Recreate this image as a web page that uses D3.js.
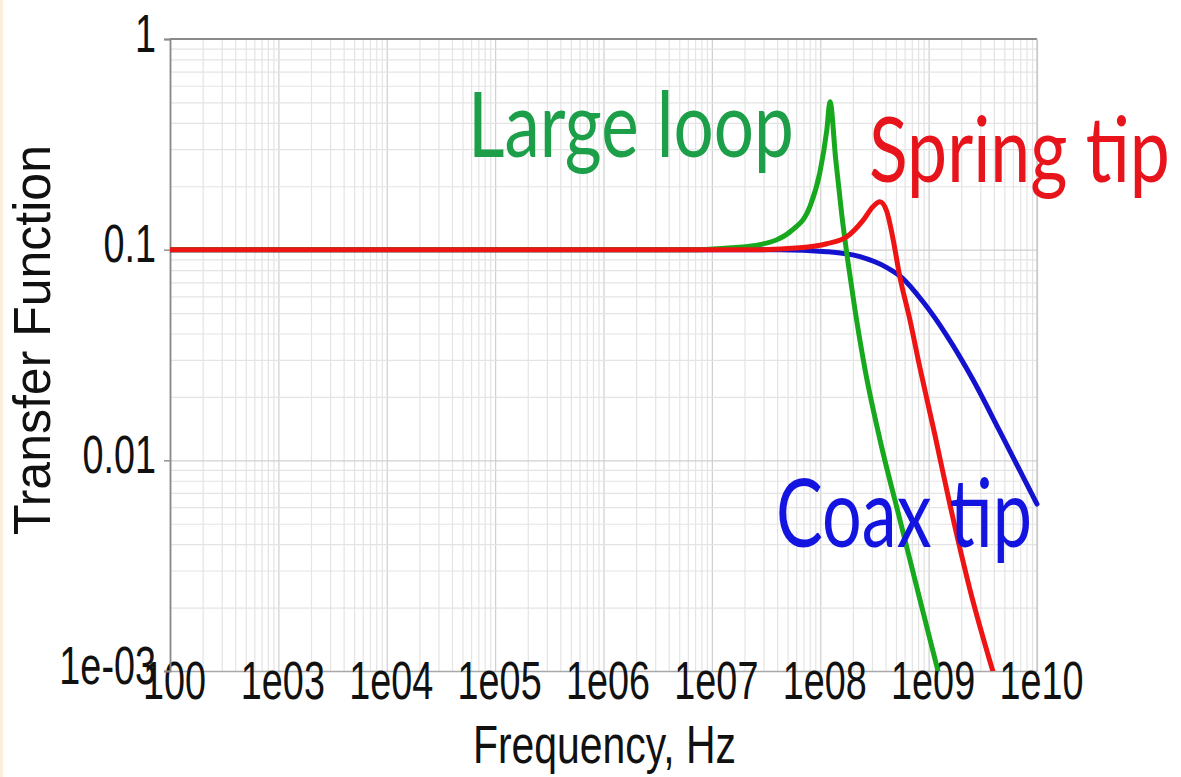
<!DOCTYPE html>
<html>
<head>
<meta charset="utf-8">
<script src="https://cdn.jsdelivr.net/npm/d3@7"></script>
<style>
  html, body { margin: 0; padding: 0; background: #ffffff; }
  svg { display: block; }
</style>
</head>
<body>
<svg id="chart" width="1181" height="777"></svg>
<script>
// ---- data ---------------------------------------------------------------
const xTickValues = [1e2, 1e3, 1e4, 1e5, 1e6, 1e7, 1e8, 1e9, 1e10];
const xTickLabels = ["100", "1e03", "1e04", "1e05", "1e06", "1e07", "1e08", "1e09", "1e10"];
const yTickValues = [1e-3, 1e-2, 1e-1, 1];
const yTickLabels = ["1e-03", "0.01", "0.1", "1"];

// Large loop probe: sharp resonance near 120 MHz
const largeLoopFreq = [1e2, 7.75e6, 1.56e7, 2.77e7, 5.58e7, 8.02e7, 9.91e7, 1.15e8, 1.23e8,
                       1.39e8, 1.58e8, 1.80e8, 2.09e8, 2.59e8, 3.55e8, 5.42e8, 8.30e8, 1.22e9];
const largeLoopTF   = [0.1, 0.1, 0.1022, 0.1056, 0.1244, 0.160, 0.232, 0.370, 0.503,
                       0.267, 0.1465, 0.0878, 0.052, 0.027, 0.01258, 0.00525, 0.00219, 0.001];

// Spring tip probe: mild peak near 350 MHz
const springTipFreq = [1e2, 2.77e7, 6.48e7, 1.15e8, 1.76e8, 2.47e8, 3.06e8, 3.55e8, 4.12e8,
                       4.67e8, 5.42e8, 6.71e8, 8.30e8, 1.14e9, 1.57e9, 2.40e9, 3.91e9];
const springTipTF   = [0.1, 0.1, 0.102, 0.1067, 0.1152, 0.1373, 0.160, 0.1688, 0.1514,
                       0.114, 0.0745, 0.0466, 0.0276, 0.01328, 0.00619, 0.00245, 0.001];

// Coax tip probe: smooth roll-off
const coaxTipFreq = [1e2, 4.24e7, 1.15e8, 2.32e8, 4.12e8, 5.66e8, 8.84e8, 1.47e9, 2.56e9, 4.54e9, 1e10];
const coaxTipTF   = [0.1, 0.1, 0.0978, 0.0926, 0.0822, 0.0737, 0.0567, 0.0391, 0.0242, 0.01372, 0.0062];

const seriesNames = ["Coax tip", "Large loop", "Spring tip"];

// ---- layout -------------------------------------------------------------
const svg = d3.select("#chart");
const W = 1181, H = 777;
const plot = { left: 170, right: 1037, top: 39, bottom: 671 };

svg.append("rect").attr("width", W).attr("height", H).attr("fill", "#ffffff");
// faint warm tint along the left edge of the slide
svg.append("rect").attr("x", 0).attr("y", 0).attr("width", 3).attr("height", H).attr("fill", "#fbeedd");

const x = d3.scaleLog().domain([1e2, 1e10]).range([plot.left, plot.right]);
const y = d3.scaleLog().domain([1e-3, 1]).range([plot.bottom, plot.top]);

const isDecade = v => Math.abs(Math.log10(v) - Math.round(Math.log10(v))) < 1e-9;

// ---- grid ---------------------------------------------------------------
const gridX = svg.append("g")
  .attr("transform", `translate(0,${plot.bottom})`)
  .call(d3.axisBottom(x).tickValues(x.ticks()).tickSize(-(plot.bottom - plot.top)).tickFormat(""));
gridX.select(".domain").remove();
gridX.selectAll(".tick line")
  .attr("stroke", d => isDecade(d) ? "#cfcfcf" : "#e4e4e4")
  .attr("stroke-width", 1.2);

const gridY = svg.append("g")
  .attr("transform", `translate(${plot.left},0)`)
  .call(d3.axisLeft(y).tickValues(y.ticks()).tickSize(-(plot.right - plot.left)).tickFormat(""));
gridY.select(".domain").remove();
gridY.selectAll(".tick line")
  .attr("stroke", d => isDecade(d) ? "#cfcfcf" : "#e4e4e4")
  .attr("stroke-width", 1.2);

// ---- frame --------------------------------------------------------------
svg.append("line").attr("x1", plot.left).attr("x2", plot.right).attr("y1", plot.top).attr("y2", plot.top)
  .attr("stroke", "#8a8a8a").attr("stroke-width", 1.8);
svg.append("line").attr("x1", plot.right).attr("x2", plot.right).attr("y1", plot.top).attr("y2", plot.bottom)
  .attr("stroke", "#c4c4c4").attr("stroke-width", 1.2);

// ---- axes ---------------------------------------------------------------
const tickFont = "'Liberation Sans', Arial, sans-serif";

const xAxis = svg.append("g")
  .attr("transform", `translate(0,${plot.bottom})`)
  .call(d3.axisBottom(x).tickValues(xTickValues).tickSize(0)
    .tickFormat((d, i) => xTickLabels[i]));
xAxis.select(".domain").attr("stroke", "#a8a8a8").attr("stroke-width", 1.4);
xAxis.selectAll(".tick text")
  .attr("x", 0).attr("y", 0).attr("dy", null)
  .attr("text-anchor", "middle")
  .attr("transform", "translate(4,28) scale(0.7,1)")
  .style("font-family", tickFont).style("font-size", "54px").attr("fill", "#111");

const yAxis = svg.append("g")
  .attr("transform", `translate(${plot.left},0)`)
  .call(d3.axisLeft(y).tickValues(yTickValues).tickSize(6)
    .tickFormat((d, i) => yTickLabels[i]));
yAxis.select(".domain").attr("stroke", "#8a8a8a").attr("stroke-width", 1.8);
yAxis.selectAll(".tick line").attr("stroke", "#8a8a8a").attr("stroke-width", 1.4);
yAxis.selectAll(".tick text")
  .attr("x", 0).attr("y", 0).attr("dy", null)
  .attr("text-anchor", "end")
  .attr("transform", "translate(-14,12) scale(0.7,1)")
  .style("font-family", tickFont).style("font-size", "54px").attr("fill", "#111");

// ---- curves -------------------------------------------------------------
svg.append("clipPath").attr("id", "plot-clip")
  .append("rect").attr("x", plot.left).attr("y", plot.top - 2)
  .attr("width", plot.right - plot.left + 3).attr("height", plot.bottom - plot.top + 2);

const line = d3.line()
  .x(d => x(d[0]))
  .y(d => y(d[1]))
  .curve(d3.curveMonotoneX);

const series = [
  { name: seriesNames[0], f: coaxTipFreq,   v: coaxTipTF,   color: "#1212cf" },
  { name: seriesNames[1], f: largeLoopFreq, v: largeLoopTF, color: "#17a81e" },
  { name: seriesNames[2], f: springTipFreq, v: springTipTF, color: "#ee1414" }
];

const curves = svg.append("g").attr("clip-path", "url(#plot-clip)");
series.forEach(s => {
  curves.append("path")
    .datum(s.f.map((f, i) => [f, s.v[i]]))
    .attr("fill", "none")
    .attr("stroke", s.color)
    .attr("stroke-width", 5)
    .attr("stroke-linejoin", "round")
    .attr("stroke-linecap", "round")
    .attr("d", line);
});

// ---- labels -------------------------------------------------------------
// place text with its left edge at (x0, baseline) and squeeze it to the given width
function fittedText(g, str, x0, baseline, width, size, family, color, rotate) {
  const t = g.append("text")
    .attr("x", 0).attr("y", 0)
    .style("font-family", family)
    .style("font-size", size + "px")
    .attr("fill", color)
    .text(str);
  const w = t.node().getComputedTextLength();
  const k = width / w;
  if (rotate) {
    t.attr("transform", `translate(${x0},${baseline}) rotate(-90) scale(${k},1)`);
  } else {
    t.attr("transform", `translate(${x0},${baseline}) scale(${k},1)`);
  }
  return t;
}

const labels = svg.append("g");
const annoFont = "Lato, 'Open Sans', sans-serif";
fittedText(labels, seriesNames[1], 468, 157, 326, 91, annoFont, "#1c9f48");
fittedText(labels, seriesNames[2], 869, 182, 301, 91, annoFont, "#e8141c");
fittedText(labels, seriesNames[0], 776, 547, 256, 95, annoFont, "#1414e0");

fittedText(labels, "Frequency, Hz", 473, 763, 263, 54, tickFont, "#111");
fittedText(labels, "Transfer Function", 50, 535, 390, 51, tickFont, "#111", true);
</script>
</body>
</html>
